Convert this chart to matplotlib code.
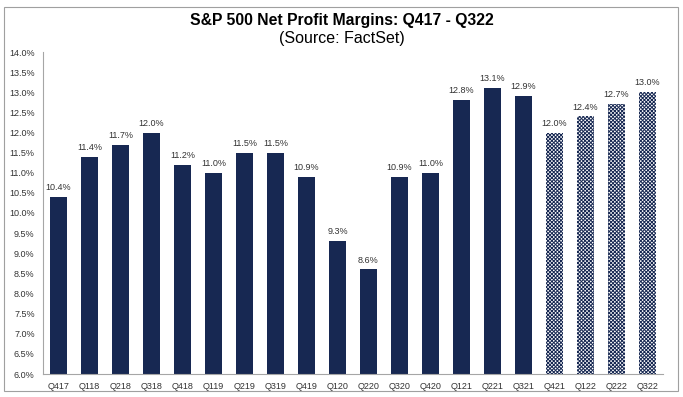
import matplotlib.pyplot as plt
from matplotlib.patches import Rectangle

# dados
trimestres = ["Q417", "Q118", "Q218", "Q318", "Q418", "Q119", "Q219", "Q319", "Q419", "Q120",
              "Q220", "Q320", "Q420", "Q121", "Q221", "Q321", "Q421", "Q122", "Q222", "Q322"]
margens = [10.4, 11.4, 11.7, 12.0, 11.2, 11.0, 11.5, 11.5, 10.9, 9.3,
           8.6, 10.9, 11.0, 12.8, 13.1, 12.9, 12.0, 12.4, 12.7, 13.0]
estimado = [False] * 16 + [True] * 4

plt.rcParams['font.family'] = ['Liberation Sans', 'DejaVu Sans']
plt.rcParams['hatch.linewidth'] = 0.7

azul = "#172852"
cinza_texto = "#333333"

fig = plt.figure(figsize=(6.83, 3.97), dpi=100)
ax = fig.add_axes([43 / 683, 1 - 374 / 397, 620 / 683, 322 / 397])

x = range(len(trimestres))
for i, (v, est) in enumerate(zip(margens, estimado)):
    if est:
        ax.bar(i, v - 6.0, bottom=6.0, width=0.58, color="white", edgecolor=azul,
               hatch="xxxxxxxxx", linewidth=0)
    else:
        ax.bar(i, v - 6.0, bottom=6.0, width=0.58, color=azul, linewidth=0)
    ax.text(i, v + 0.12, f"{v:.1f}%", ha="center", va="bottom", fontsize=6.5, color=cinza_texto)

ax.set_ylim(6.0, 14.0)
ax.set_xlim(-0.5, len(trimestres) - 0.5)
ax.set_yticks([6.0 + 0.5 * k for k in range(17)])
ax.set_yticklabels([f"{6.0 + 0.5 * k:.1f}%" for k in range(17)], fontsize=6.5, color=cinza_texto)
ax.set_xticks(list(x))
ax.set_xticklabels(trimestres, fontsize=6.5, color=cinza_texto)
ax.tick_params(axis="both", length=0, pad=6)
ax.spines["top"].set_visible(False)
ax.spines["right"].set_visible(False)
for s in ["left", "bottom"]:
    ax.spines[s].set_color("#a6a6a6")
    ax.spines[s].set_linewidth(0.8)

fig.text(0.5, 1 - 21 / 397, "S&P 500 Net Profit Margins: Q417 - Q322", ha="center", va="center",
         fontsize=11.3, fontweight="bold")
fig.text(0.5, 1 - 39 / 397, "(Source: FactSet)", ha="center", va="center", fontsize=11.5)

fig.patches.append(Rectangle((4 / 683, 1 - 391 / 397), 674 / 683, 384 / 397,
                             transform=fig.transFigure, fill=False, edgecolor="#a0a0a0",
                             linewidth=0.8))

fig.savefig("out.png", dpi=100)
